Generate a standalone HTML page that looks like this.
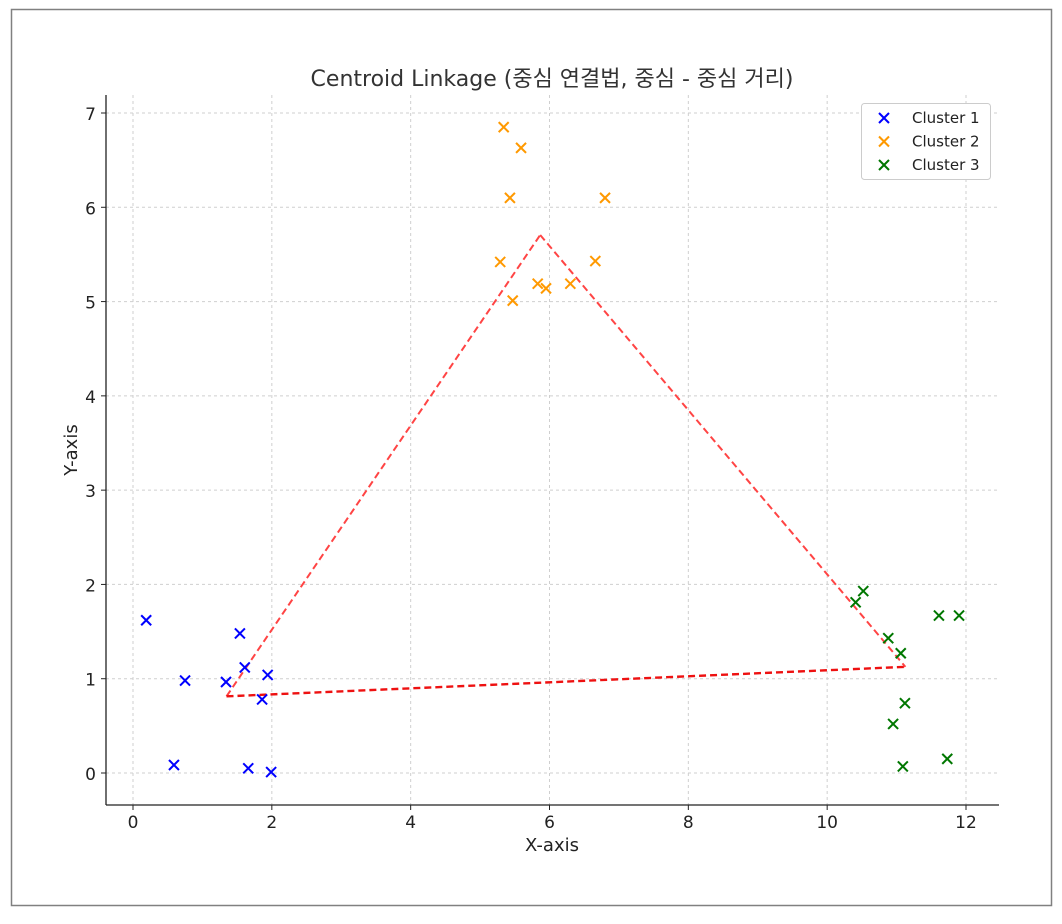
<!DOCTYPE html>
<html><head><meta charset="utf-8"><style>
body{margin:0;background:#fff;}
svg text{font-family:"DejaVu Sans","Liberation Sans","Noto Sans CJK KR",sans-serif;}
</style></head><body>
<svg id="chart" width="1062" height="919" xmlns="http://www.w3.org/2000/svg">
<rect x="11.5" y="9.5" width="1040" height="896" fill="#fff" stroke="#808080" stroke-width="1.5"/>
<text x="552" y="86" font-size="22" text-anchor="middle" fill="#333">Centroid Linkage (중심 연결법, 중심 - 중심 거리)</text>
<g id="grid"></g><g id="axes"></g><g id="marks"></g>
<text x="552" y="851" font-size="18" text-anchor="middle" fill="#222">X-axis</text>
<text x="77" y="450" font-size="18" text-anchor="middle" fill="#222" transform="rotate(-90 77 450)">Y-axis</text>
<g>
<rect x="861.5" y="103.5" width="129" height="76" rx="3" fill="#fff" stroke="#ccc"/>
<g id="legend"></g>
</g>
</svg>
<script>
const xTicks=[0,2,4,6,8,10,12];
const yTicks=[0,1,2,3,4,5,6,7];
const seriesNames=["Cluster 1","Cluster 2","Cluster 3"];
const seriesColors=["#0000ff","#ff9900","#007700"];
const c1x=[0.19,0.59,0.75,1.34,1.54,1.61,1.66,1.86,1.94,1.99];
const c1y=[1.62,0.085,0.98,0.965,1.48,1.12,0.05,0.78,1.04,0.01];
const c2x=[5.34,5.59,5.43,6.80,5.29,6.66,5.83,5.95,6.30,5.47];
const c2y=[6.85,6.63,6.10,6.10,5.42,5.43,5.19,5.14,5.19,5.01];
const c3x=[10.41,10.52,10.88,11.06,11.12,10.95,11.09,11.61,11.90,11.73];
const c3y=[1.81,1.93,1.43,1.27,0.74,0.52,0.07,1.67,1.67,0.15];
const NS="http://www.w3.org/2000/svg";
const L=106,R=999,T=95,B=805;
const sx=v=>133+v*(966-133)/12;
const sy=v=>773-v*(773-113)/7;
function mk(tag,attrs,parent){const e=document.createElementNS(NS,tag);for(const k in attrs)e.setAttribute(k,attrs[k]);parent.appendChild(e);return e;}
const grid=document.getElementById('grid'),axes=document.getElementById('axes'),marks=document.getElementById('marks');
xTicks.forEach(t=>{
 const g=mk('line',{x1:sx(t),x2:sx(t),y1:T,y2:B,stroke:'#cfcfcf','stroke-dasharray':'3,3'},grid);
 
 
 mk('line',{x1:sx(t),x2:sx(t),y1:B,y2:B+5,stroke:'#222'},axes);
 const tx=mk('text',{x:sx(t),y:B+23,'font-size':17,'text-anchor':'middle',fill:'#222'},axes);tx.textContent=t;
 
 
});
yTicks.forEach(t=>{
 const g=mk('line',{x1:L,x2:R,y1:sy(t),y2:sy(t),stroke:'#cfcfcf','stroke-dasharray':'3,3'},grid);
 
 
 mk('line',{x1:L-5,x2:L,y1:sy(t),y2:sy(t),stroke:'#222'},axes);
 const tx=mk('text',{x:L-10,y:sy(t)+7,'font-size':17,'text-anchor':'end',fill:'#222'},axes);tx.textContent=t;
 
 
});
mk('line',{x1:L,x2:L,y1:T,y2:B,stroke:'#222','stroke-width':1.3},axes);
mk('line',{x1:L,x2:R,y1:B,y2:B,stroke:'#222','stroke-width':1.3},axes);
const xs=[c1x,c2x,c3x],ys=[c1y,c2y,c3y];
const mean=a=>a.reduce((s,v)=>s+v,0)/a.length;
const cx=xs.map(mean),cy=ys.map(mean);
[[0,1,'#ff4444',2],[1,2,'#ff4444',2],[0,2,'#ee1111',2.4]].forEach(([a,b,c,w])=>{
 const l=mk('line',{x1:sx(cx[a]),y1:sy(cy[a]),x2:sx(cx[b]),y2:sy(cy[b]),stroke:c,'stroke-width':w,'stroke-dasharray':'7,4'},marks);
 
 
});
function cross(x,y,col,parent){
 const g=mk('g',{},parent);
 mk('line',{x1:x-5,y1:y-5,x2:x+5,y2:y+5,stroke:col,'stroke-width':2},g);
 mk('line',{x1:x-5,y1:y+5,x2:x+5,y2:y-5,stroke:col,'stroke-width':2},g);
 return g;
}
xs.forEach((arr,s)=>arr.forEach((v,i)=>{
 const g=cross(sx(v),sy(ys[s][i]),seriesColors[s],marks);
 
 
}));
const lg=document.getElementById('legend');
seriesNames.forEach((n,i)=>{
 const y=118+i*23.5;
 const g=cross(884,y,seriesColors[i],lg);
 
 
 const t=mk('text',{x:912,y:y+5,'font-size':15,fill:'#222'},lg);t.textContent=n;
 
 
});
</script>
</body></html>
